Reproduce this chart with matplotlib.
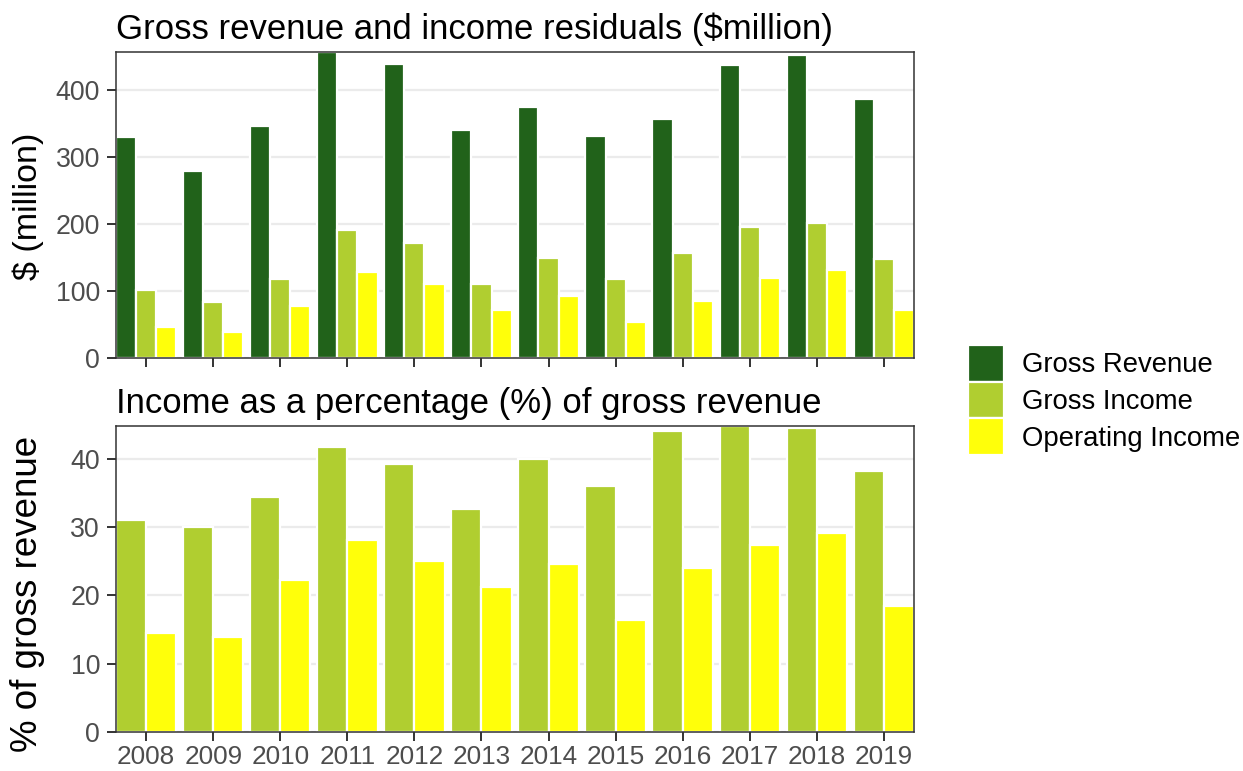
import numpy as np
import matplotlib
matplotlib.use("Agg")
import matplotlib.pyplot as plt
import matplotlib.transforms as mtransforms

plt.rcParams["font.family"] = ["Liberation Sans", "DejaVu Sans"]

# ---- data -----------------------------------------------------------------
years = ["2008", "2009", "2010", "2011", "2012", "2013",
         "2014", "2015", "2016", "2017", "2018", "2019"]

# $ million
gross_revenue = [330, 280, 346, 457, 439, 340, 375, 332, 357, 437, 452, 387]
gross_income = [102, 84, 118, 191, 172, 110, 149, 118, 157, 196, 201, 148]
operating_income = [47, 39, 77, 128, 110, 72, 92, 54, 85, 119, 131, 72]

# % of gross revenue
gross_income_pct = [31.0, 30.0, 34.4, 41.7, 39.3, 32.6, 40.0, 36.0, 44.1, 44.8, 44.5, 38.2]
operating_income_pct = [14.5, 13.9, 22.2, 28.1, 25.1, 21.2, 24.6, 16.4, 24.0, 27.4, 29.1, 18.5]

series_names = ["Gross Revenue", "Gross Income", "Operating Income"]
colors = {"Gross Revenue": "#21621A", "Gross Income": "#B0CE30",
          "Operating Income": "#FFFF0A"}

# ---- figure ---------------------------------------------------------------
W, H = 1243, 771
fig = plt.figure(figsize=(W / 100, H / 100), dpi=100)
fig.patch.set_facecolor("white")


def px_axes(left, top, right, bottom):
    return fig.add_axes([left / W, 1 - bottom / H, (right - left) / W, (bottom - top) / H])


ax1 = px_axes(116, 52, 914, 358)
ax2 = px_axes(116, 426, 914, 732)

x = np.arange(len(years))
dodge = 0.9
tick_col = "#4D4D4D"
edge_lw = 1.6
YTICK_FS = 19.3
XTICK_FS = 18.8
TITLE_FS = 25
LEGEND_FS = 19.8


def style(ax, ymax, yticks, show_xlabels):
    ax.set_xlim(-dodge / 2, len(years) - 1 + dodge / 2)
    ax.set_ylim(0, ymax)
    ax.set_yticks(yticks)
    ax.set_xticks(x)
    ax.set_xticklabels(years if show_xlabels else [])
    ax.yaxis.grid(True, color="#EBEBEB", linewidth=1.6)
    ax.xaxis.grid(False)
    ax.set_axisbelow(True)
    for s in ax.spines.values():
        s.set_color("#333333")
        s.set_linewidth(1.1)
    ax.tick_params(axis="both", colors="#333333", length=6.5, width=1.4,
                   labelcolor=tick_col)
    ax.tick_params(axis="y", labelsize=YTICK_FS, pad=5)
    ax.tick_params(axis="x", labelsize=XTICK_FS, pad=2.5)


# top panel: three dodged bars per year
top_vals = [gross_revenue, gross_income, operating_income]
bw = dodge / 3
for i, (name, vals) in enumerate(zip(series_names, top_vals)):
    ax1.bar(x + (i - 1) * bw, vals, width=bw, color=colors[name],
            edgecolor="white", linewidth=edge_lw, label=name)
style(ax1, max(gross_revenue), [0, 100, 200, 300, 400], False)
ax1.set_ylabel("$ (million)", fontsize=24.5, va="center")

# bottom panel: two dodged bars per year
bot_vals = [gross_income_pct, operating_income_pct]
bw2 = dodge / 2
for i, (name, vals) in enumerate(zip(series_names[1:], bot_vals)):
    ax2.bar(x + (i - 0.5) * bw2, vals, width=bw2, color=colors[name],
            edgecolor="white", linewidth=edge_lw)
style(ax2, max(gross_income_pct), [0, 10, 20, 30, 40], True)
ax2.set_ylabel("% of gross revenue", fontsize=26.5, va="center")

# y-axis titles share one horizontal position (figure pixels from the top)
for ax, y_px in ((ax1, 206), (ax2, 594)):
    ax.yaxis.set_label_coords(28 / W, 1 - y_px / H, transform=fig.transFigure)

fig.text(116 / W, 1 - 39.5 / H, "Gross revenue and income residuals ($million)",
         fontsize=TITLE_FS, ha="left", va="baseline", color="black")
fig.text(116 / W, 1 - 412.5 / H, "Income as a percentage (%) of gross revenue",
         fontsize=TITLE_FS, ha="left", va="baseline", color="black")

# legend
handles, labels = ax1.get_legend_handles_labels()
fs_px = LEGEND_FS * 100 / 72
fig.legend(handles, labels, loc="center left",
           bbox_to_anchor=(968 / W, 1 - 400 / H),
           frameon=False, fontsize=LEGEND_FS, borderpad=0, borderaxespad=0,
           handlelength=36 / fs_px, handleheight=46 / fs_px,
           labelspacing=0, handletextpad=18 / fs_px)

fig.savefig("out.png", dpi=100, facecolor="white")
